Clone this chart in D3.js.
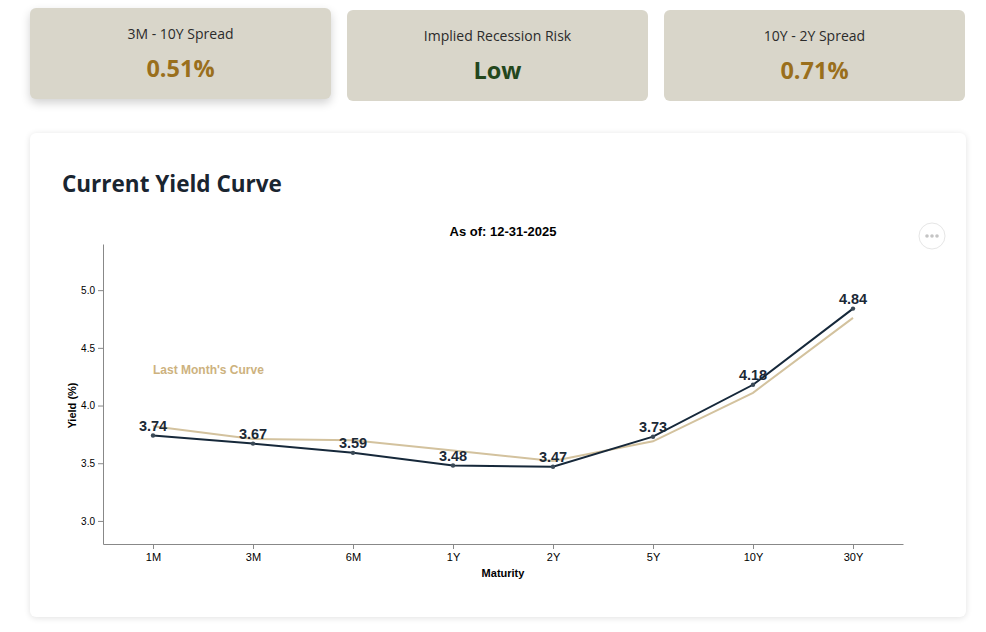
<!DOCTYPE html>
<html>
<head>
<meta charset="utf-8">
<script src="https://cdn.jsdelivr.net/npm/d3@7"></script>
<style>
body { margin: 0; background: #fff; font-family: "Open Sans", "Noto Sans", sans-serif; }
.card { position: absolute; background: #d9d6ca; border-radius: 6px; text-align: center; }
.card .lbl { position: absolute; left: 0; right: 0; top: 16px; font-size: 14px; color: #2b2b2b; }
.card .val { position: absolute; left: 0; right: 0; top: 44px; font-size: 23.5px; font-weight: 700; }
#panel { position: absolute; left: 30px; top: 133px; width: 936px; height: 484px; background: #fff;
    border-radius: 6px; box-shadow: 0 1px 6px rgba(0,0,0,0.12); }
#panel h2 { position: absolute; left: 32px; top: 35px; margin: 0; font-size: 22.5px; font-weight: 700; color: #1a2530; }
</style>
</head>
<body>
<div id="cards"></div>
<div id="panel"><h2>Current Yield Curve</h2></div>
<script>
// summary cards
var cardLabels = ["3M - 10Y Spread", "Implied Recession Risk", "10Y - 2Y Spread"];
var cardValues = ["0.51%", "Low", "0.71%"];
var cardColors = ["#9a6f1c", "#23471c", "#9a6f1c"];

// yield curve data
var maturities = ["1M", "3M", "6M", "1Y", "2Y", "5Y", "10Y", "30Y"];
var currentYields = [3.74, 3.67, 3.59, 3.48, 3.47, 3.73, 4.18, 4.84];
var lastMonthYields = [3.82, 3.71, 3.70, 3.61, 3.52, 3.69, 4.11, 4.76];
var yTicks = [3.0, 3.5, 4.0, 4.5, 5.0];

var cardBox = [
    {x: 30, y: 8, shadow: true},
    {x: 347, y: 10, shadow: false},
    {x: 664, y: 10, shadow: false}
];

var cards = d3.select("#cards").selectAll("div")
    .data(cardLabels)
    .enter().append("div")
    .attr("class", "card")
    .style("left", function(d, i) { return cardBox[i].x + "px"; })
    .style("top", function(d, i) { return cardBox[i].y + "px"; })
    .style("width", "301px")
    .style("height", "91px")
    .style("box-shadow", function(d, i) {
        return cardBox[i].shadow ? "0 4px 10px rgba(0,0,0,0.18)" : "none";
    });
cards.append("div").attr("class", "lbl").text(function(d) { return d; });
cards.append("div").attr("class", "val")
    .style("color", function(d, i) { return cardColors[i]; })
    .text(function(d, i) { return cardValues[i]; });

// chart, coordinates relative to panel
var margin = {top: 111, left: 73},
    width = 800,
    height = 300;

var svg = d3.select("#panel").append("svg")
    .attr("width", 936)
    .attr("height", 484)
    .style("position", "absolute")
    .style("left", 0)
    .style("top", 0);

var g = svg.append("g")
    .attr("transform", "translate(" + margin.left + "," + margin.top + ")");

var x = d3.scalePoint()
    .domain(maturities)
    .range([0, width])
    .padding(0.5);

var y = d3.scaleLinear()
    .domain([2.8, 5.4])
    .range([height, 0]);

var fontAxis = "Arial, 'Liberation Sans', sans-serif";

// axes
var yAxis = g.append("g")
    .call(d3.axisLeft(y).tickValues(yTicks).tickFormat(d3.format(".1f")).tickSize(5).tickSizeOuter(0));
yAxis.selectAll("text").attr("font-size", 10).attr("font-family", fontAxis).attr("fill", "#000");
yAxis.selectAll("line, path").attr("stroke", "#888");

var xAxis = g.append("g")
    .attr("transform", "translate(0," + height + ")")
    .call(d3.axisBottom(x).tickSize(5).tickSizeOuter(0));
xAxis.selectAll("text").attr("font-size", 11).attr("font-family", fontAxis).attr("fill", "#000").attr("dy", "0.85em");
xAxis.selectAll("line, path").attr("stroke", "#888");

// titles
g.append("text")
    .attr("x", width / 2)
    .attr("y", -8)
    .attr("text-anchor", "middle")
    .attr("font-family", fontAxis)
    .attr("font-size", 13)
    .attr("font-weight", "bold")
    .text("As of: 12-31-2025");

g.append("text")
    .attr("x", width / 2)
    .attr("y", height + 33)
    .attr("text-anchor", "middle")
    .attr("font-family", fontAxis)
    .attr("font-size", 11)
    .attr("font-weight", "bold")
    .text("Maturity");

g.append("text")
    .attr("transform", "translate(-27," + y(4.0) + ") rotate(-90)")
    .attr("text-anchor", "middle")
    .attr("font-family", fontAxis)
    .attr("font-size", 11)
    .attr("font-weight", "bold")
    .text("Yield (%)");

var line = d3.line()
    .x(function(d, i) { return x(maturities[i]); })
    .y(function(d) { return y(d); });

// last month's curve
g.append("path")
    .datum(lastMonthYields)
    .attr("d", line)
    .attr("fill", "none")
    .attr("stroke", "#d3c29e")
    .attr("stroke-width", 2);

g.append("text")
    .attr("x", x("1M"))
    .attr("y", y(4.3) + 3)
    .attr("font-family", fontAxis)
    .attr("font-size", 12)
    .attr("font-weight", "bold")
    .attr("fill", "#cdb27e")
    .text("Last Month's Curve");

// current curve
g.append("path")
    .datum(currentYields)
    .attr("d", line)
    .attr("fill", "none")
    .attr("stroke", "#16283a")
    .attr("stroke-width", 2);

g.selectAll(".pt")
    .data(currentYields)
    .enter().append("circle")
    .attr("class", "pt")
    .attr("cx", function(d, i) { return x(maturities[i]); })
    .attr("cy", function(d) { return y(d); })
    .attr("r", 2.2)
    .attr("fill", "#3b4a57");

g.selectAll(".lbl")
    .data(currentYields)
    .enter().append("text")
    .attr("class", "lbl")
    .attr("x", function(d, i) { return x(maturities[i]); })
    .attr("y", function(d) { return y(d) - 5; })
    .attr("text-anchor", "middle")
    .attr("font-family", fontAxis)
    .attr("font-size", 14.5)
    .attr("font-weight", "bold")
    .attr("fill", "#1b2936")
    .text(function(d) { return d3.format(".2f")(d); });

// actions button
var btn = svg.append("g").attr("transform", "translate(902,103)");
btn.append("circle").attr("r", 13).attr("fill", "#fff").attr("stroke", "#e6e6e6");
btn.selectAll(".dot").data([-5, 0, 5]).enter().append("circle")
    .attr("cx", function(d) { return d; })
    .attr("r", 1.8)
    .attr("fill", "#c4c4c4");
</script>
</body>
</html>
